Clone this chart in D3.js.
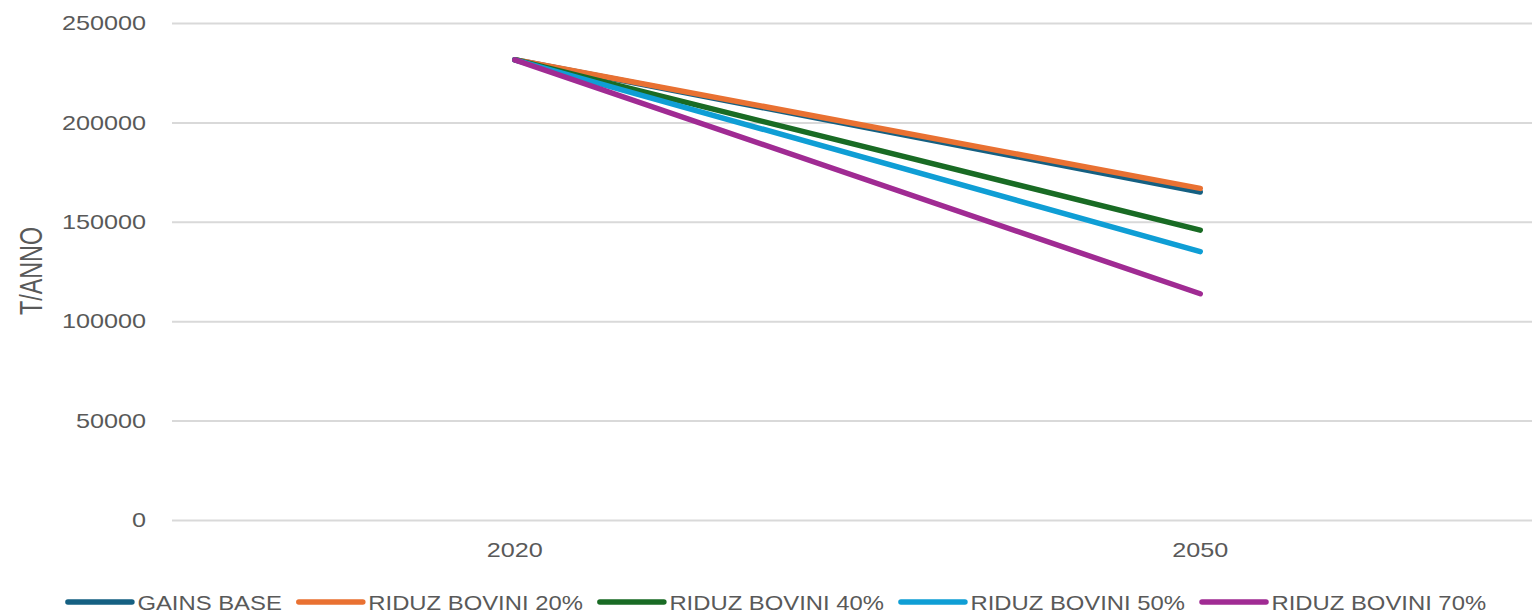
<!DOCTYPE html>
<html>
<head>
<meta charset="utf-8">
<script src="https://cdn.jsdelivr.net/npm/d3@7/dist/d3.min.js"></script>
<style>
  html, body { margin: 0; padding: 0; background: #fff; overflow: hidden; }
  svg { display: block; }
  text { font-family: "Liberation Sans", Arial, sans-serif; fill: #595959; }
</style>
</head>
<body>
<svg id="chart" width="1532" height="613"></svg>
<script>
// Emission scenarios (t/anno), 2020 vs 2050
const years = ["2020", "2050"];
const seriesNames = ["GAINS BASE", "RIDUZ BOVINI 20%", "RIDUZ BOVINI 40%", "RIDUZ BOVINI 50%", "RIDUZ BOVINI 70%"];
const gainsBase = [231500, 165000];
const riduz20 = [231500, 166800];
const riduz40 = [231500, 145800];
const riduz50 = [231500, 135000];
const riduz70 = [231500, 113800];
const seriesColors = ["#156082", "#E97132", "#196B24", "#0F9ED5", "#A02B93"];
const yTicks = [0, 50000, 100000, 150000, 200000, 250000];
const yTitle = "T/ANNO";

const seriesValues = [gainsBase, riduz20, riduz40, riduz50, riduz70];
const series = seriesNames.map((name, i) => ({
  name, color: seriesColors[i],
  points: years.map((yr, j) => ({ year: yr, value: seriesValues[i][j] }))
}));

const svg = d3.select("#chart");
const plot = { left: 172, right: 1543, top: 23, bottom: 520 };

const x = d3.scaleBand().domain(years).range([plot.left, plot.right]);
const y = d3.scaleLinear().domain([0, 250000]).range([plot.bottom, plot.top]);

// stretch text horizontally to the wide glyph style used in the chart
function widen(sel, k) {
  sel.each(function() {
    d3.select(this)
      .attr("textLength", this.getComputedTextLength() * k)
      .attr("lengthAdjust", "spacingAndGlyphs");
  });
}

// horizontal gridlines + tick labels
const yAxis = d3.axisLeft(y).tickValues(yTicks).tickFormat(d3.format("d"))
  .tickSize(-(plot.right - plot.left)).tickPadding(26);
const gy = svg.append("g").attr("transform", `translate(${plot.left},0)`).call(yAxis);
gy.select(".domain").remove();
gy.selectAll(".tick line").attr("stroke", "#d9d9d9").attr("stroke-width", 2);
gy.selectAll(".tick text")
  .style("font-size", "21px")
  .attr("fill", "#595959")
  .call(widen, 1.2);

// category labels
const xAxis = d3.axisBottom(x).tickSize(0).tickPadding(22);
const gx = svg.append("g").attr("transform", `translate(0,${plot.bottom})`).call(xAxis);
gx.select(".domain").remove();
gx.selectAll(".tick text")
  .style("font-size", "21px")
  .attr("fill", "#595959")
  .call(widen, 1.2);

// axis title
svg.append("text")
  .attr("transform", `translate(42,271) rotate(-90)`)
  .attr("text-anchor", "middle")
  .style("font-family", "'Liberation Sans Narrow', 'Liberation Sans', sans-serif")
  .style("font-size", "32px")
  .attr("textLength", 88)
  .attr("lengthAdjust", "spacingAndGlyphs")
  .text(yTitle);

// lines
const line = d3.line()
  .x(d => x(d.year) + x.bandwidth() / 2)
  .y(d => y(d.value));

svg.append("g").selectAll("path")
  .data(series)
  .join("path")
  .attr("d", d => line(d.points))
  .attr("fill", "none")
  .attr("stroke", d => d.color)
  .attr("stroke-width", 5.5)
  .attr("stroke-linecap", "round")
  .attr("stroke-linejoin", "round");

// legend
const legend = svg.append("g").attr("transform", "translate(0,602)");
const items = legend.selectAll("g").data(series).join("g");
items.append("line")
  .attr("x1", 0).attr("x2", 64)
  .attr("stroke", d => d.color).attr("stroke-width", 5.5).attr("stroke-linecap", "round");
items.append("text")
  .attr("x", 69.5).attr("y", 8)
  .style("font-size", "21px")
  .text(d => d.name)
  .call(widen, 1.135);

const widths = [];
items.each(function() {
  widths.push(69.5 + (+d3.select(this).select("text").attr("textLength")));
});
const gap = 17;
const total = d3.sum(widths) + gap * (widths.length - 1);
let cursor = 777 - total / 2;
items.each(function(d, i) {
  d3.select(this).attr("transform", `translate(${cursor},0)`);
  cursor += widths[i] + gap;
});
</script>
</body>
</html>
